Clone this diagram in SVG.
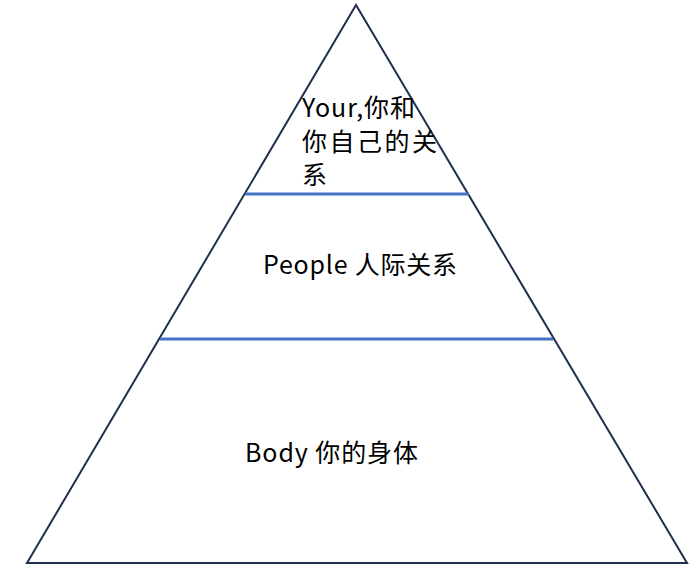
<svg xmlns="http://www.w3.org/2000/svg" width="693" height="573" viewBox="0 0 693 573">
<style>
.tri{fill:#ffffff;stroke:#1f2f4f;stroke-width:2;stroke-linejoin:miter}
.div{stroke:#4472c4;stroke-width:3}
.t{font-family:"Microsoft YaHei","Noto Sans CJK SC","Noto Sans",sans-serif;font-size:25px;fill:#000000}
</style>
<rect width="693" height="573" fill="#ffffff"/>
<g id="pyramid">
<polygon class="tri" points="356,5 27,563 687,563"/>
</g>
<g id="connectors">
<line class="div" x1="245" y1="194" x2="469" y2="194"/>
<line class="div" x1="160" y1="339" x2="553" y2="339"/>
</g>
<g id="top">
<text class="t" x="302" y="117" textLength="113">Your,你和</text>
<text class="t" x="302" y="151" textLength="135">你自己的关</text>
<text class="t" x="302" y="184">系</text>
</g>
<g id="middle">
<text class="t" x="263" y="274" textLength="194">People 人际关系</text>
</g>
<g id="bottom">
<text class="t" x="245" y="462" textLength="173">Body 你的身体</text>
</g>
</svg>
